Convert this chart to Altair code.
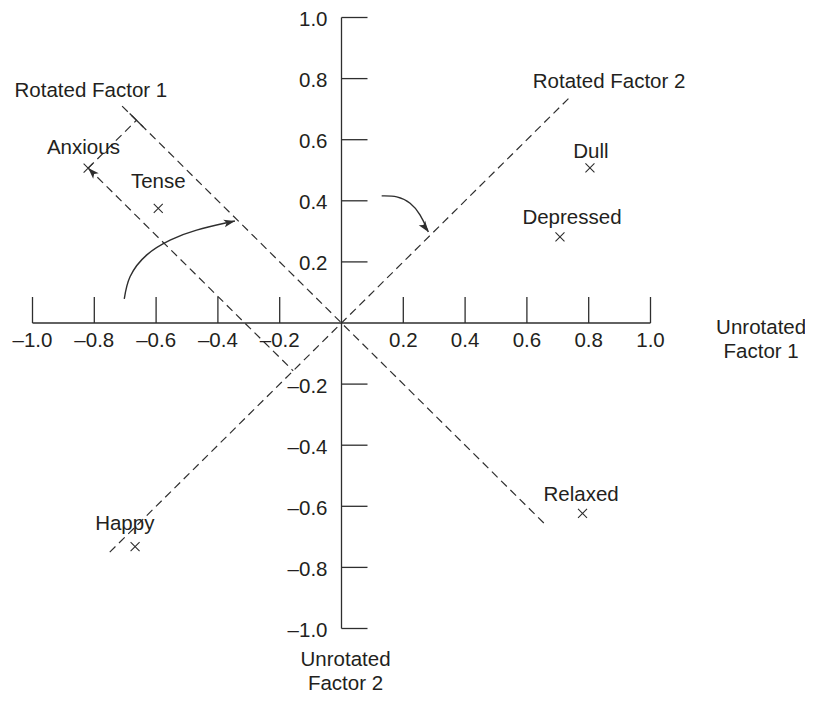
import altair as alt
import pandas as pd

# ---------------- data ----------------
names = ["Anxious", "Tense", "Dull", "Depressed", "Relaxed", "Happy"]
load_f1 = [-0.82, -0.593, 0.804, 0.707, 0.78, -0.668]
load_f2 = [0.507, 0.375, 0.508, 0.282, -0.623, -0.732]

x_ticks = [-1.0, -0.8, -0.6, -0.4, -0.2, 0.2, 0.4, 0.6, 0.8, 1.0]
x_tick_labels = ["–1.0", "–0.8", "–0.6", "–0.4", "–0.2", "0.2", "0.4", "0.6", "0.8", "1.0"]
y_ticks = [1.0, 0.8, 0.6, 0.4, 0.2, -0.2, -0.4, -0.6, -0.8, -1.0]
y_tick_labels = ["1.0", "0.8", "0.6", "0.4", "0.2", "–0.2", "–0.4", "–0.6", "–0.8", "–1.0"]

# extent of the rotated axes (along unrotated factor 1)
rot1_extent = [-0.71, 0.66]   # Rotated Factor 1 : y = -x
rot2_extent = [-0.75, 0.74]   # Rotated Factor 2 : y = x

# curved rotation arrows
curve1_x = [-0.703, -0.684, -0.630, -0.553, -0.469, -0.372, -0.345]
curve1_y = [0.079, 0.152, 0.223, 0.272, 0.304, 0.328, 0.334]
curve2_x = [0.130, 0.179, 0.222, 0.254, 0.276, 0.281]
curve2_y = [0.416, 0.413, 0.392, 0.354, 0.310, 0.298]

titles = ["Rotated Factor 1", "Rotated Factor 2", "Unrotated\nFactor 1", "Unrotated\nFactor 2"]
title_x = [-0.811, 0.866, 1.358, 0.013]
title_y = [0.741, 0.770, -0.037, -1.123]

# ---------------- layout / style ----------------
W, H = 797, 686
SX, SY = 309.0, 305.5          # pixels per unit
XMIN = -333.5 / SX
XMAX = XMIN + W / SX
YMAX = 315.0 / SY
YMIN = YMAX - H / SY
INK = "#231f20"
LINE = "#2e2e2e"
FONT = "Liberation Sans"
FS = 20.5

# label offsets in pixels (dx, dy of baseline relative to the point)
label_dx = {"Anxious": -4.7, "Tense": 0, "Dull": 1, "Depressed": 12, "Relaxed": -1.4, "Happy": -10.3}
label_dy = {"Anxious": -13.7, "Tense": -20, "Dull": -10, "Depressed": -12.4, "Relaxed": -12.6, "Happy": -16.7}

xs = alt.Scale(domain=[XMIN, XMAX], nice=False, zero=False)
ys = alt.Scale(domain=[YMIN, YMAX], nice=False, zero=False)


def X(f="x"):
    return alt.X(f"{f}:Q", scale=xs, axis=None)


def Y(f="y"):
    return alt.Y(f"{f}:Q", scale=ys, axis=None)


# axes
tick_len_y = 26 / SY
tick_len_x = 26 / SX
axis_rows = [dict(x=-1.0, y=0.0, x2=1.0, y2=0.0), dict(x=0.0, y=-1.0, x2=0.0, y2=1.0)]
axis_rows += [dict(x=t, y=0.0, x2=t, y2=tick_len_y) for t in x_ticks]
axis_rows += [dict(x=0.0, y=t, x2=tick_len_x, y2=t) for t in y_ticks]
axes_df = pd.DataFrame(axis_rows)

axes = alt.Chart(axes_df).mark_rule(color=LINE, strokeWidth=1.3).encode(
    x=X(), y=Y(), x2="x2:Q", y2="y2:Q")

xlab = alt.Chart(pd.DataFrame({"x": x_ticks, "y": [0.0] * len(x_ticks), "t": x_tick_labels})).mark_text(
    font=FONT, fontSize=FS, color=INK, align="center", baseline="alphabetic", dy=24
).encode(x=X(), y=Y(), text="t:N")

ylab = alt.Chart(pd.DataFrame({"x": [0.0] * len(y_ticks), "y": y_ticks, "t": y_tick_labels})).mark_text(
    font=FONT, fontSize=FS, color=INK, align="right", baseline="alphabetic", dx=-14, dy=8.4
).encode(x=X(), y=Y(), text="t:N")

# rotated axes and projection of Anxious
ax_, ay_ = load_f1[0], load_f2[0]
p1 = ((ax_ - ay_) / 2, (ay_ - ax_) / 2)    # projection on y = -x
p2 = ((ax_ + ay_) / 2, (ax_ + ay_) / 2)    # projection on y = x
dash_rows = [
    dict(x=rot1_extent[0], y=-rot1_extent[0], x2=rot1_extent[1], y2=-rot1_extent[1]),
    dict(x=rot2_extent[0], y=rot2_extent[0], x2=rot2_extent[1], y2=rot2_extent[1]),
    dict(x=ax_, y=ay_, x2=p1[0], y2=p1[1]),
    dict(x=ax_, y=ay_, x2=p2[0], y2=p2[1]),
]
dashes = alt.Chart(pd.DataFrame(dash_rows)).mark_rule(
    color=LINE, strokeWidth=1.2, strokeDash=[8, 5]).encode(x=X(), y=Y(), x2="x2:Q", y2="y2:Q")

d = 0.022
tick_mark = alt.Chart(pd.DataFrame([dict(x=p1[0] - d, y=p1[1] + d, x2=p1[0] + d, y2=p1[1] - d)])).mark_rule(
    color=LINE, strokeWidth=1.3).encode(x=X(), y=Y(), x2="x2:Q", y2="y2:Q")

# curves
curve_df = pd.DataFrame({
    "x": curve1_x + curve2_x,
    "y": curve1_y + curve2_y,
    "c": ["a"] * len(curve1_x) + ["b"] * len(curve2_x),
    "i": list(range(len(curve1_x))) + list(range(len(curve2_x))),
})
curves = alt.Chart(curve_df).mark_line(color=LINE, strokeWidth=1.4, interpolate="natural").encode(
    x=X(), y=Y(), detail="c:N", order="i:Q")

arrow_df = pd.DataFrame({
    "x": [ax_, curve1_x[-1], curve2_x[-1]],
    "y": [ay_, curve1_y[-1], curve2_y[-1]],
    "ang": [225, 347, 55],
})
ARROW = "M0,0L-1.7,-0.6L-1.3,0L-1.7,0.6Z"
arrows = alt.Chart(arrow_df).mark_point(shape=ARROW, filled=True, color=LINE, size=170, opacity=1).encode(
    x=X(), y=Y(), angle=alt.Angle("ang:Q", scale=None))

# points
pts_df = pd.DataFrame({"name": names, "x": load_f1, "y": load_f2})
pts_df["lx"] = [x + label_dx[n] / SX for n, x in zip(names, load_f1)]
pts_df["ly"] = [y - label_dy[n] / SY for n, y in zip(names, load_f2)]
CROSS = "M-1,-1L1,1M1,-1L-1,1"
marks = alt.Chart(pts_df).mark_point(shape=CROSS, filled=False, color=LINE, strokeWidth=1.1,
                                     size=81, opacity=1).encode(x=X(), y=Y())
labels = alt.Chart(pts_df).mark_text(font=FONT, fontSize=FS, color=INK, align="center",
                                     baseline="alphabetic").encode(x=X("lx"), y=Y("ly"), text="name:N")

title_df = pd.DataFrame({"t": titles, "x": title_x, "y": title_y})
title_marks = alt.Chart(title_df).mark_text(font=FONT, fontSize=FS, color=INK, align="center",
                                            baseline="alphabetic", lineBreak="\n", lineHeight=24).encode(
    x=X(), y=Y(), text="t:N")

chart = alt.layer(dashes, tick_mark, axes, curves, arrows, marks, labels, xlab, ylab, title_marks).properties(
    width=W, height=H, padding=0, autosize=alt.AutoSizeParams(type="none"), background="white"
).configure_view(stroke=None)

chart.save("out.html", embed_options={"renderer": "svg", "actions": False})
